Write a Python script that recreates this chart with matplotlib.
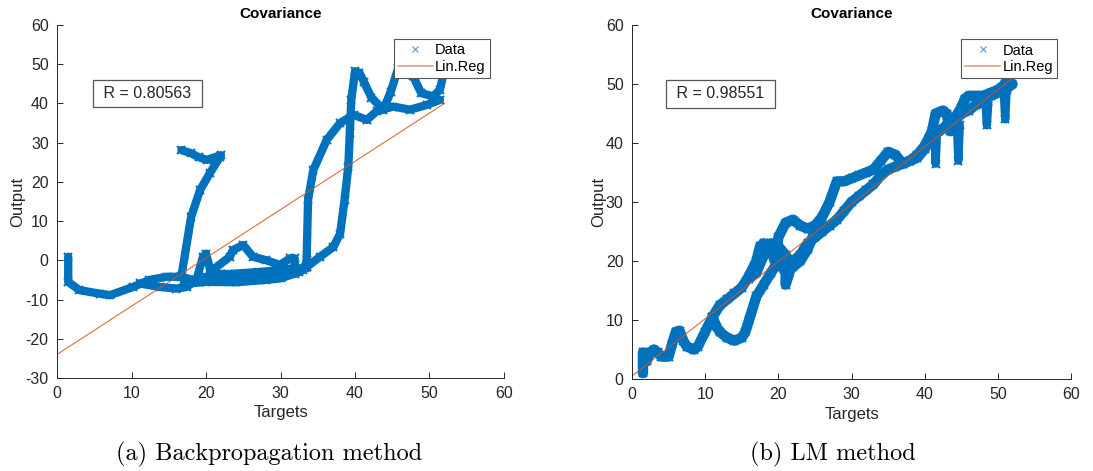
import numpy as np
import matplotlib
matplotlib.use('Agg')
import matplotlib.pyplot as plt
from matplotlib.lines import Line2D

BLUE = '#0072BD'
ORANGE = '#D95319'

# ---- (a) Backpropagation: traced paths of the Data scatter (Targets, Output)
bp_base_x = [1.5, 1.5, 3.0, 5.7, 7.1, 10.2, 12.4, 14.7, 16.7, 19.2, 20.0, 23.6, 28.1, 31.7, 33.5]
bp_base_y = [0.9, -5.5, -7.6, -8.5, -8.9, -6.8, -5.0, -4.2, -4.2, -5.5, -4.2, -5.0, -4.2, -2.5, -1.7]
bp_loop_x = [11.1, 13.8, 16.0, 17.4, 18.7, 19.6, 20.0, 20.7, 23.0, 27.0, 30.0, 32.0]
bp_loop_y = [-5.9, -6.8, -7.2, -6.8, -5.0, 0.9, 1.7, -3.4, -3.5, -3.0, -2.5, -2.0]
bp_band_x = [17.0, 20.0, 24.0, 28.0, 30.0, 32.5]
bp_band_y = [-6.0, -5.5, -5.6, -5.0, -4.6, -3.0]
bp_hook_x = [16.7, 18.0, 19.2, 20.5, 21.9, 22.0, 20.1, 19.0, 18.0, 16.7]
bp_hook_y = [-4.0, 11.1, 17.9, 22.2, 26.4, 26.8, 25.6, 26.3, 27.3, 28.1]
bp_bump_x = [20.5, 23.2, 23.6, 25.0, 26.3, 28.1, 29.9, 31.3, 31.9, 31.9, 33.0]
bp_bump_y = [-3.0, 0.9, 2.6, 3.9, 0.9, 0.0, -1.2, 0.5, 0.5, -3.4, -2.5]
bp_rise_x = [33.3, 33.5, 33.7, 34.4, 36.2, 38.0, 39.8, 41.6, 42.9, 45.1, 47.4, 49.6, 51.4]
bp_rise_y = [-2.0, 0.0, 15.4, 23.0, 30.7, 35.0, 37.1, 35.8, 38.0, 39.2, 38.4, 39.6, 40.9]
bp_s_x = [33.5, 35.3, 37.1, 38.0, 38.6, 39.1, 39.3, 39.5, 40.0, 40.6, 41.2, 42.2, 43.8, 44.8, 45.8, 46.7,
          47.8, 48.9, 50.5, 51.4, 51.9, 52.1]
bp_s_y = [-1.7, 0.9, 3.4, 6.8, 15.4, 23.9, 32.4, 40.9, 48.2, 47.8, 45.5, 41.5, 38.4, 43.0, 49.0, 52.4,
          46.9, 42.6, 41.8, 43.5, 47.7, 50.5]
bp_r = 0.80563
bp_fit = (-24.0, 40.0)   # Lin.Reg output at target 0 and 52

# ---- (b) LM method
lm_top_x = [1.5, 1.5, 2.0, 2.5, 3.0, 3.5, 4.0, 5.0, 5.5, 6.0, 6.5, 7.0, 7.5, 8.5, 9.0, 10.0, 11.0, 12.0,
            13.0, 14.0, 15.0, 16.0, 17.0, 17.5, 18.0, 19.0, 19.5, 20.0, 21.0, 22.0, 23.0, 24.0, 25.0,
            26.0, 27.0, 28.0, 29.0, 30.0, 31.0, 32.0, 33.0, 34.0, 35.0, 36.0, 37.0, 38.0, 39.0, 40.0,
            41.0, 41.5, 42.5, 43.0, 43.5, 44.0, 45.0, 45.5, 46.0, 47.0, 48.0, 49.0, 50.0, 51.0, 51.5]
lm_top_y = [1.0, 4.5, 3.0, 4.5, 5.0, 4.5, 3.8, 3.8, 6.0, 8.0, 8.2, 6.5, 5.5, 5.0, 5.5, 8.0, 10.5, 12.5,
            13.5, 14.5, 15.5, 17.5, 20.0, 22.5, 23.0, 22.0, 20.0, 24.0, 26.5, 27.0, 26.0, 25.5, 26.0,
            27.5, 30.0, 33.5, 33.5, 34.0, 34.5, 35.0, 35.5, 37.0, 38.5, 38.0, 36.5, 37.0, 38.0, 39.5,
            42.0, 45.0, 45.5, 45.0, 42.0, 44.0, 46.0, 47.5, 48.0, 48.0, 48.0, 48.5, 49.0, 50.0, 51.5]
lm_low_x = [11.0, 11.5, 12.0, 13.0, 14.0, 15.0, 15.5, 16.0, 17.0, 18.0, 19.0, 20.0, 21.0, 21.0, 21.5,
            22.0, 23.0, 24.0, 25.0, 26.0, 27.0, 28.0, 29.0, 30.0, 31.0, 32.0, 33.0, 34.0, 35.0, 36.0,
            37.0, 38.0, 39.0, 40.0, 41.0, 42.0, 43.0, 44.0, 45.0, 46.0, 47.0, 48.0, 49.0, 50.0, 51.0, 52.0]
lm_low_y = [10.5, 9.0, 8.0, 7.0, 6.5, 7.0, 8.0, 10.0, 14.0, 16.0, 18.0, 20.0, 18.0, 16.0, 18.0,
            20.0, 21.0, 23.0, 24.0, 25.0, 26.0, 27.0, 28.5, 30.0, 31.0, 32.0, 33.0, 34.5, 35.5, 36.0,
            36.5, 37.0, 37.5, 39.0, 41.0, 42.0, 43.0, 43.5, 45.0, 45.5, 46.5, 47.0, 48.0, 48.5, 49.0, 50.0]
lm_mid_x = [16.0, 17.0, 18.0, 19.0, 20.0, 21.0, 22.0, 23.0, 24.0, 25.0, 26.0]
lm_mid_y = [17.0, 18.0, 21.0, 23.0, 22.5, 21.0, 19.0, 20.0, 22.0, 25.0, 26.0]
lm_spike_x = [41.5, 44.6, 48.5, 51.0]
lm_spike_top = [42.0, 43.0, 47.0, 49.0]
lm_spike_bot = [36.5, 37.0, 43.0, 44.0]
lm_r = 0.98551
lm_fit = (0.5, 51.0)

fit_x = (0.0, 52.0)

plt.rcParams['axes.unicode_minus'] = False
plt.rcParams['font.family'] = ['Liberation Sans', 'DejaVu Sans']


def style_axes(ax, ylim):
    ax.set_xlim(0, 60)
    ax.set_ylim(*ylim)
    ax.set_xticks(np.arange(0, 61, 10))
    ax.set_yticks(np.arange(ylim[0], ylim[1] + 1, 10))
    for s in ['top', 'right']:
        ax.spines[s].set_visible(False)
    for s in ['left', 'bottom']:
        ax.spines[s].set_color('#262626')
        ax.spines[s].set_linewidth(0.7)
    ax.tick_params(direction='in', length=4, width=0.7, color='#262626',
                   labelcolor='#262626', labelsize=11.5, pad=6)
    ax.set_title('Covariance', fontsize=11, fontweight='bold', pad=5)
    ax.set_xlabel('Targets', fontsize=12, color='#262626', labelpad=3)
    ax.set_ylabel('Output', fontsize=12, color='#262626', labelpad=0)


def draw_path(ax, xs, ys, lw=6):
    ax.plot(xs, ys, color=BLUE, lw=lw, marker='x', ms=6, mew=1.5,
            solid_capstyle='round', solid_joinstyle='round')


def add_legend(ax):
    h = [Line2D([], [], ls='none', marker='x', color='#5A9BD5', ms=5, mew=0.8, label='Data'),
         Line2D([], [], color='#E8A080', lw=1.2, label='Lin.Reg')]
    leg = ax.legend(handles=h, loc='upper right', bbox_to_anchor=(0.969, 0.96),
                    borderaxespad=0, fancybox=False, framealpha=1, fontsize=10.5,
                    handlelength=2.4, handletextpad=0.15, borderpad=0.3, labelspacing=0.15)
    leg.get_frame().set_edgecolor('#555555')
    leg.get_frame().set_linewidth(0.8)


def add_r(ax, x, r):
    ax.text(x, 0.806, ' R = %.5f ' % r, transform=ax.transAxes, fontsize=11.5,
            color='#262626', va='center', ha='center',
            bbox=dict(boxstyle='square,pad=0.4', fc='white', ec='#555555', lw=0.9))


fig = plt.figure(figsize=(10.93, 4.71), dpi=100)

ax1 = fig.add_axes([0.0522, 0.1975, 0.4089, 0.7495])
ax2 = fig.add_axes([0.5782, 0.1953, 0.4017, 0.7516])

# (a)
for xs, ys in [(bp_base_x, bp_base_y), (bp_loop_x, bp_loop_y), (bp_band_x, bp_band_y),
               (bp_hook_x, bp_hook_y), (bp_bump_x, bp_bump_y), (bp_rise_x, bp_rise_y),
               (bp_s_x, bp_s_y)]:
    draw_path(ax1, xs, ys)
ax1.plot(fit_x, bp_fit, color=ORANGE, lw=0.8, alpha=0.85)
style_axes(ax1, (-30, 60))
add_legend(ax1)
add_r(ax1, 0.2025, bp_r)

# (b)
for xs, ys in [(lm_top_x, lm_top_y), (lm_low_x, lm_low_y), (lm_mid_x, lm_mid_y)]:
    draw_path(ax2, xs, ys, lw=7.5)
for sx, st, sb in zip(lm_spike_x, lm_spike_top, lm_spike_bot):
    draw_path(ax2, [sx - 0.2, sx, sx + 0.2], [st, sb, st], lw=6)
ax2.plot(fit_x, lm_fit, color=ORANGE, lw=0.8, alpha=0.85)
style_axes(ax2, (0, 60))
add_legend(ax2)
add_r(ax2, 0.2016, lm_r)

fig.text(0.246, 0.035, '(a) Backpropagation method', family='cmr10', fontsize=17.5,
         ha='center', va='center')
fig.text(0.762, 0.035, '(b) LM method', family='cmr10', fontsize=17.5,
         ha='center', va='center')

fig.savefig('out.png', dpi=100)
